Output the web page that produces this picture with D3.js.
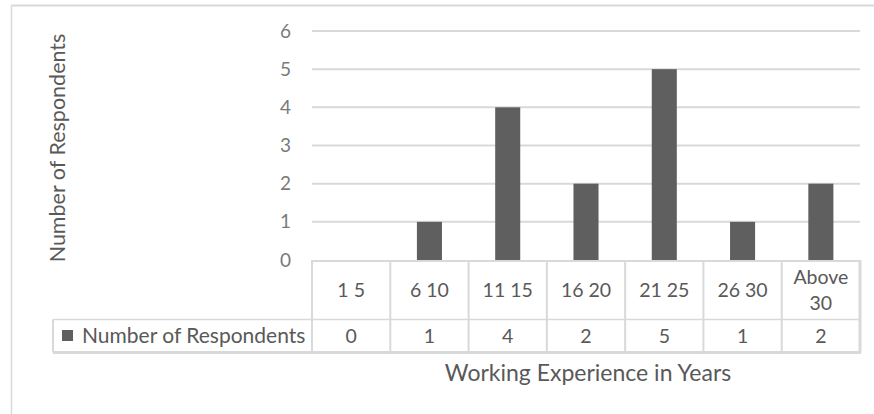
<!DOCTYPE html>
<html>
<head>
<meta charset="utf-8">
<script src="https://cdn.jsdelivr.net/npm/d3@7/dist/d3.min.js"></script>
<style>
  html, body { margin: 0; padding: 0; background: #fff; }
  svg text { font-family: Lato, "Open Sans", sans-serif; fill: #595959; }
</style>
</head>
<body>
<svg id="chart" width="874" height="414"></svg>
<script>
// Respondents grouped by working experience
const categories = ["1 5", "6 10", "11 15", "16 20", "21 25", "26 30", "Above 30"];
const respondents = [0, 1, 4, 2, 5, 1, 2];
const yTicks = [0, 1, 2, 3, 4, 5, 6];
const seriesName = "Number of Respondents";
const yTitle = "Number of Respondents";
const xTitle = "Working Experience in Years";

const svg = d3.select("#chart");
const grid = "#d9d9d9";
const barColor = "#5f5f5f";

const x = d3.scaleBand().domain(categories).range([312, 860])
  .paddingInner(0.68).paddingOuter(0.34);
const y = d3.scaleLinear().domain([0, 6]).range([260, 31]);

// frame of the chart area
svg.append("line").attr("x1", 11.5).attr("x2", 11.5).attr("y1", 5).attr("y2", 414)
  .attr("stroke", grid).attr("stroke-width", 1.5);
svg.append("line").attr("x1", 11).attr("x2", 874).attr("y1", 5.5).attr("y2", 5.5)
  .attr("stroke", grid).attr("stroke-width", 2);

// horizontal gridlines
svg.append("g").selectAll("line").data(yTicks.filter(d => d > 0)).join("line")
  .attr("x1", 312).attr("x2", 860)
  .attr("y1", d => y(d)).attr("y2", d => y(d))
  .attr("stroke", grid).attr("stroke-width", 2);

// y axis labels
const yAxis = d3.axisLeft(y).tickValues(yTicks).tickSize(0).tickPadding(0).tickFormat(d3.format("d"));
const gy = svg.append("g").attr("transform", "translate(291,0)").call(yAxis);
gy.select(".domain").remove();
gy.selectAll("text").attr("font-size", 19).attr("font-family", "Lato, sans-serif").style("fill", "#7a7a7a");

// bars
svg.append("g").selectAll("rect").data(respondents).join("rect")
  .attr("x", (d, i) => x(categories[i]))
  .attr("width", x.bandwidth())
  .attr("y", d => y(d))
  .attr("height", d => y(0) - y(d))
  .attr("fill", barColor);

// data table under the plot
const rowTop = 260, rowMid = 319.5, rowBot = 352.5, legLeft = 53;
const tbl = svg.append("g");
const edges = categories.map(c => x(c) - x.step() * x.paddingInner() / 2);
edges.push(860);
// horizontal rules
tbl.append("line").attr("x1", 312).attr("x2", 860).attr("y1", rowTop + 1).attr("y2", rowTop + 1)
  .attr("stroke", grid).attr("stroke-width", 2);
tbl.append("line").attr("x1", legLeft).attr("x2", 860).attr("y1", rowMid).attr("y2", rowMid)
  .attr("stroke", grid).attr("stroke-width", 1.5);
tbl.append("line").attr("x1", legLeft).attr("x2", 861).attr("y1", rowBot).attr("y2", rowBot)
  .attr("stroke", grid).attr("stroke-width", 3);
// vertical rules
tbl.selectAll("line.v").data(edges).join("line").attr("class", "v")
  .attr("x1", d => d).attr("x2", d => d)
  .attr("y1", rowTop).attr("y2", rowBot)
  .attr("stroke", grid).attr("stroke-width", (d, i) => i === edges.length - 1 ? 3 : 2);
tbl.append("line").attr("x1", legLeft).attr("x2", legLeft).attr("y1", rowMid).attr("y2", rowBot)
  .attr("stroke", grid).attr("stroke-width", 2);

// category headers and values
const cellFont = 19.5;
categories.forEach((c, i) => {
  const cx = x(c) + x.bandwidth() / 2;
  const words = c.startsWith("Above") ? ["Above", "30"] : [c];
  const t = tbl.append("text").attr("x", cx).attr("text-anchor", "middle")
    .attr("font-size", cellFont);
  if (words.length === 1) {
    t.attr("y", 290).attr("dy", "0.35em").text(c);
  } else {
    t.attr("y", 277).attr("dy", "0.35em").text(words[0]);
    tbl.append("text").attr("x", cx).attr("y", 303).attr("dy", "0.35em")
      .attr("text-anchor", "middle").attr("font-size", cellFont).text(words[1]);
  }
  tbl.append("text").attr("x", cx).attr("y", 336).attr("dy", "0.35em")
    .attr("text-anchor", "middle").attr("font-size", cellFont).text(respondents[i]);
});

// legend key in the table
tbl.append("rect").attr("x", 62).attr("y", 330).attr("width", 11).attr("height", 11).attr("fill", barColor);
tbl.append("text").attr("x", 82).attr("y", 336).attr("dy", "0.35em").attr("font-size", 21).text(seriesName);

// axis titles
svg.append("text").attr("transform", "translate(57,148) rotate(-90)")
  .attr("text-anchor", "middle").attr("dy", "0.35em").attr("font-size", 21.5).text(yTitle);
svg.append("text").attr("x", 588).attr("y", 373).attr("dy", "0.35em")
  .attr("text-anchor", "middle").attr("font-size", 23).text(xTitle);
</script>
</body>
</html>
